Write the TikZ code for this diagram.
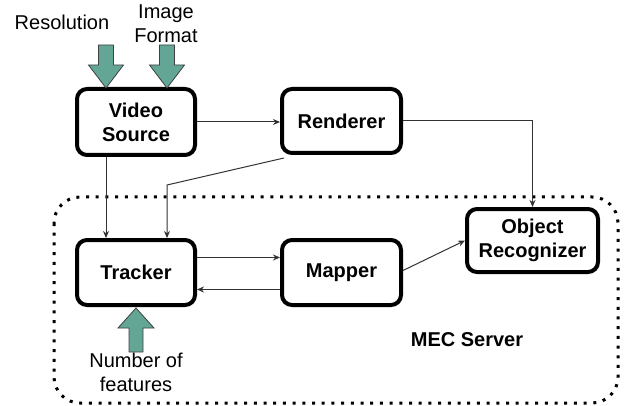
\documentclass[tikz,border=0pt]{standalone}
\usepackage{fontspec}
\setmainfont{Liberation Sans}
\usetikzlibrary{arrows.meta,calc}
\definecolor{knobgreen}{RGB}{100,166,150}
\definecolor{wire}{RGB}{50,50,50}
\tikzset{
  block/.style={draw=black, line width=4pt, rounded corners=10pt, fill=white,
    align=center, font=\fontsize{20}{24}\selectfont\bfseries, inner sep=0pt},
  wide/.style={block, minimum width=118pt, minimum height=66pt},
  flow/.style={draw=wire, line width=1pt, -{Stealth[length=7pt,width=6pt]}},
  knob/.style={draw=black!75, line width=0.8pt, fill=knobgreen},
  label/.style={font=\fontsize{20}{24}\selectfont, align=center, inner sep=0pt},
}
\begin{document}
\begin{tikzpicture}[x=1pt,y=-1pt]
\useasboundingbox (0,0) rectangle (626,406);

% MEC server boundary
\draw[line width=3pt, dash pattern=on 3pt off 6.7pt, rounded corners=26pt]
  (54,197) rectangle (618,403);

% processing blocks
\node[wide] (VS) at (136,122) {Video\\Source};
\node[block, minimum width=119pt, minimum height=64pt] (R) at (341.5,121) {Renderer};
\node[wide, minimum height=65pt] (T) at (136,272.5) {Tracker};
\node[block, minimum width=119pt, minimum height=65pt] (M) at (341.5,272.5) {Mapper};
\node[block, minimum width=131pt, minimum height=63pt] (OR) at (532.5,240.5) {Object\\Recognizer};

\node[font=\fontsize{20}{24}\selectfont\bfseries, inner sep=0pt] (mec) at (467,340) {MEC Server};

% data flow
\draw[flow] (VS.east) -- (VS.east -| R.west);
\draw[flow] (R.east) -| (OR.north);
\draw[flow] ([xshift=-30pt]VS.south) -- ([xshift=-30pt]T.north);
\coordinate (bend) at (167,185);
\draw[flow] ([shift={(4pt,-3pt)}]R.south west) -- (bend) -- (bend |- T.north);
\draw[flow] ([yshift=15pt]T.east) -- ([yshift=15pt]M.west);
\draw[flow] ([yshift=-17pt]M.west) -- ([yshift=-17pt]T.east);
\draw[flow] ([yshift=2pt]M.east) -- (OR.west);

% input knobs
\node[label] (res) at (62,22) {Resolution};
\node[label] (fmt) at (166,24) {Image\\Format};
\node[label] (nf) at (136,372) {Number of\\features};

\draw[knob] (98.5,45) -- (113.5,45) -- (113.5,65) -- (123.5,65) -- (106,88)
  -- (88.5,65) -- (98.5,65) -- cycle;
\draw[knob] (159.5,45) -- (174.5,45) -- (174.5,65) -- (184.5,65) -- (167,88)
  -- (149.5,65) -- (159.5,65) -- cycle;
\draw[knob] (129,352) -- (143,352) -- (143,328) -- (154,328) -- (136,308)
  -- (118,328) -- (129,328) -- cycle;
\end{tikzpicture}
\end{document}
